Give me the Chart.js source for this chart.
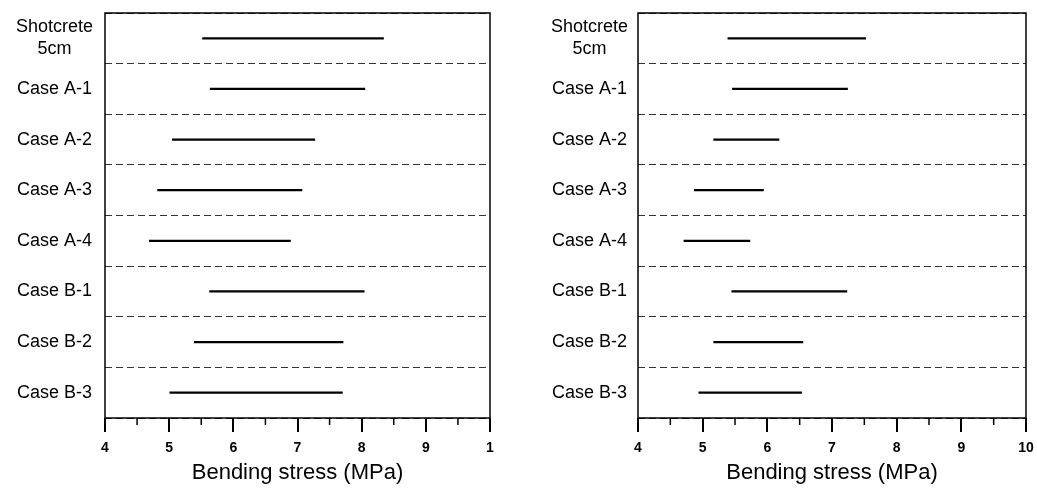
<!DOCTYPE html>
<html>
<head>
<meta charset="utf-8">
<script src="https://cdn.jsdelivr.net/npm/chart.js@4"></script>
<style>
  html, body { margin: 0; padding: 0; background: #fff; }
  .panel { position: absolute; top: 0; height: 489px; }
  #leftBox { left: 0; width: 518px; }
  #rightBox { left: 520px; width: 517px; }
</style>
</head>
<body>
<div class="panel" id="leftBox"><canvas id="leftChart"></canvas></div>
<div class="panel" id="rightBox"><canvas id="rightChart"></canvas></div>
<script>
// categories (top to bottom)
const categories = [['Shotcrete', '5cm'], 'Case A-1', 'Case A-2', 'Case A-3', 'Case A-4', 'Case B-1', 'Case B-2', 'Case B-3'];

// bending stress ranges, MPa
const leftMin  = [5.52, 5.64, 5.05, 4.82, 4.69, 5.63, 5.39, 5.01];
const leftMax  = [8.34, 8.05, 7.27, 7.07, 6.89, 8.04, 7.71, 7.70];
const rightMin = [5.39, 5.46, 5.17, 4.87, 4.71, 5.45, 5.17, 4.94];
const rightMax = [7.52, 7.24, 6.18, 5.94, 5.73, 7.23, 6.55, 6.53];

// x tick labels (left panel shows a clipped "1" at 10)
const tickValues = [4, 5, 6, 7, 8, 9, 10];
const leftTickLabels  = ['4', '5', '6', '7', '8', '9', '1'];
const rightTickLabels = ['4', '5', '6', '7', '8', '9', '10'];
const minorTicks = [4.5, 5.5, 6.5, 7.5, 8.5, 9.5];

const FONT = "'Liberation Sans', Arial, sans-serif";

// solid frame + short minor ticks on the x axis
const framePlugin = {
  id: 'frame',
  afterDraw(chart) {
    const { ctx, chartArea: a, scales: { x } } = chart;
    ctx.save();
    ctx.strokeStyle = '#000';
    ctx.lineWidth = 1.5;
    ctx.strokeRect(a.left, a.top, a.right - a.left, a.bottom - a.top);
    minorTicks.forEach(v => {
      const px = x.getPixelForValue(v);
      ctx.beginPath();
      ctx.moveTo(px, a.bottom);
      ctx.lineTo(px, a.bottom + 7);
      ctx.stroke();
    });
    ctx.restore();
  }
};

function makeChart(canvasId, mins, maxs, tickLabels, cfg) {
  const ctx = document.getElementById(canvasId).getContext('2d');
  return new Chart(ctx, {
    type: 'bar',
    data: {
      labels: categories,
      datasets: [{
        data: mins.map((m, i) => [m, maxs[i]]),
        backgroundColor: '#000',
        borderWidth: 0,
        barThickness: 1.6
      }]
    },
    options: {
      indexAxis: 'y',
      responsive: true,
      maintainAspectRatio: false,
      animation: false,
      layout: { padding: { top: 13, right: cfg.padRight, left: 0, bottom: 0 } },
      plugins: { legend: { display: false }, tooltip: { enabled: false } },
      scales: {
        x: {
          type: 'linear',
          min: 4,
          max: 10,
          afterBuildTicks(scale) {
            scale.ticks = tickValues.map(v => ({ value: v }));
          },
          afterFit(scale) {
            scale.height = 71;
            scale.paddingLeft = 0;
            scale.paddingRight = 0;
          },
          grid: {
            drawOnChartArea: false,
            drawTicks: true,
            tickLength: 14,
            color: '#000',
            lineWidth: 2
          },
          border: { display: false },
          ticks: {
            padding: 8,
            color: '#000',
            font: { family: FONT, size: 14, weight: 'bold' },
            callback: (v) => tickLabels[tickValues.indexOf(v)]
          },
          title: {
            display: true,
            text: 'Bending stress (MPa)',
            color: '#000',
            font: { family: FONT, size: 22 },
            padding: { top: 0, bottom: 3 }
          }
        },
        y: {
          afterFit(scale) {
            scale.width = cfg.axisWidth;
            scale.paddingTop = 0;
            scale.paddingBottom = 0;
          },
          grid: {
            offset: true,
            drawTicks: false,
            color: '#333',
            lineWidth: 1
          },
          border: { display: false, dash: [7, 4] },
          ticks: {
            crossAlign: 'center',
            padding: cfg.labelPad,
            color: '#000',
            font: { family: FONT, size: 18 }
          }
        }
      }
    },
    plugins: [framePlugin]
  });
}

makeChart('leftChart', leftMin, leftMax, leftTickLabels, { padRight: 28, axisWidth: 105, labelPad: 12 });
makeChart('rightChart', rightMin, rightMax, rightTickLabels, { padRight: 11, axisWidth: 118, labelPad: 10 });
</script>
</body>
</html>
